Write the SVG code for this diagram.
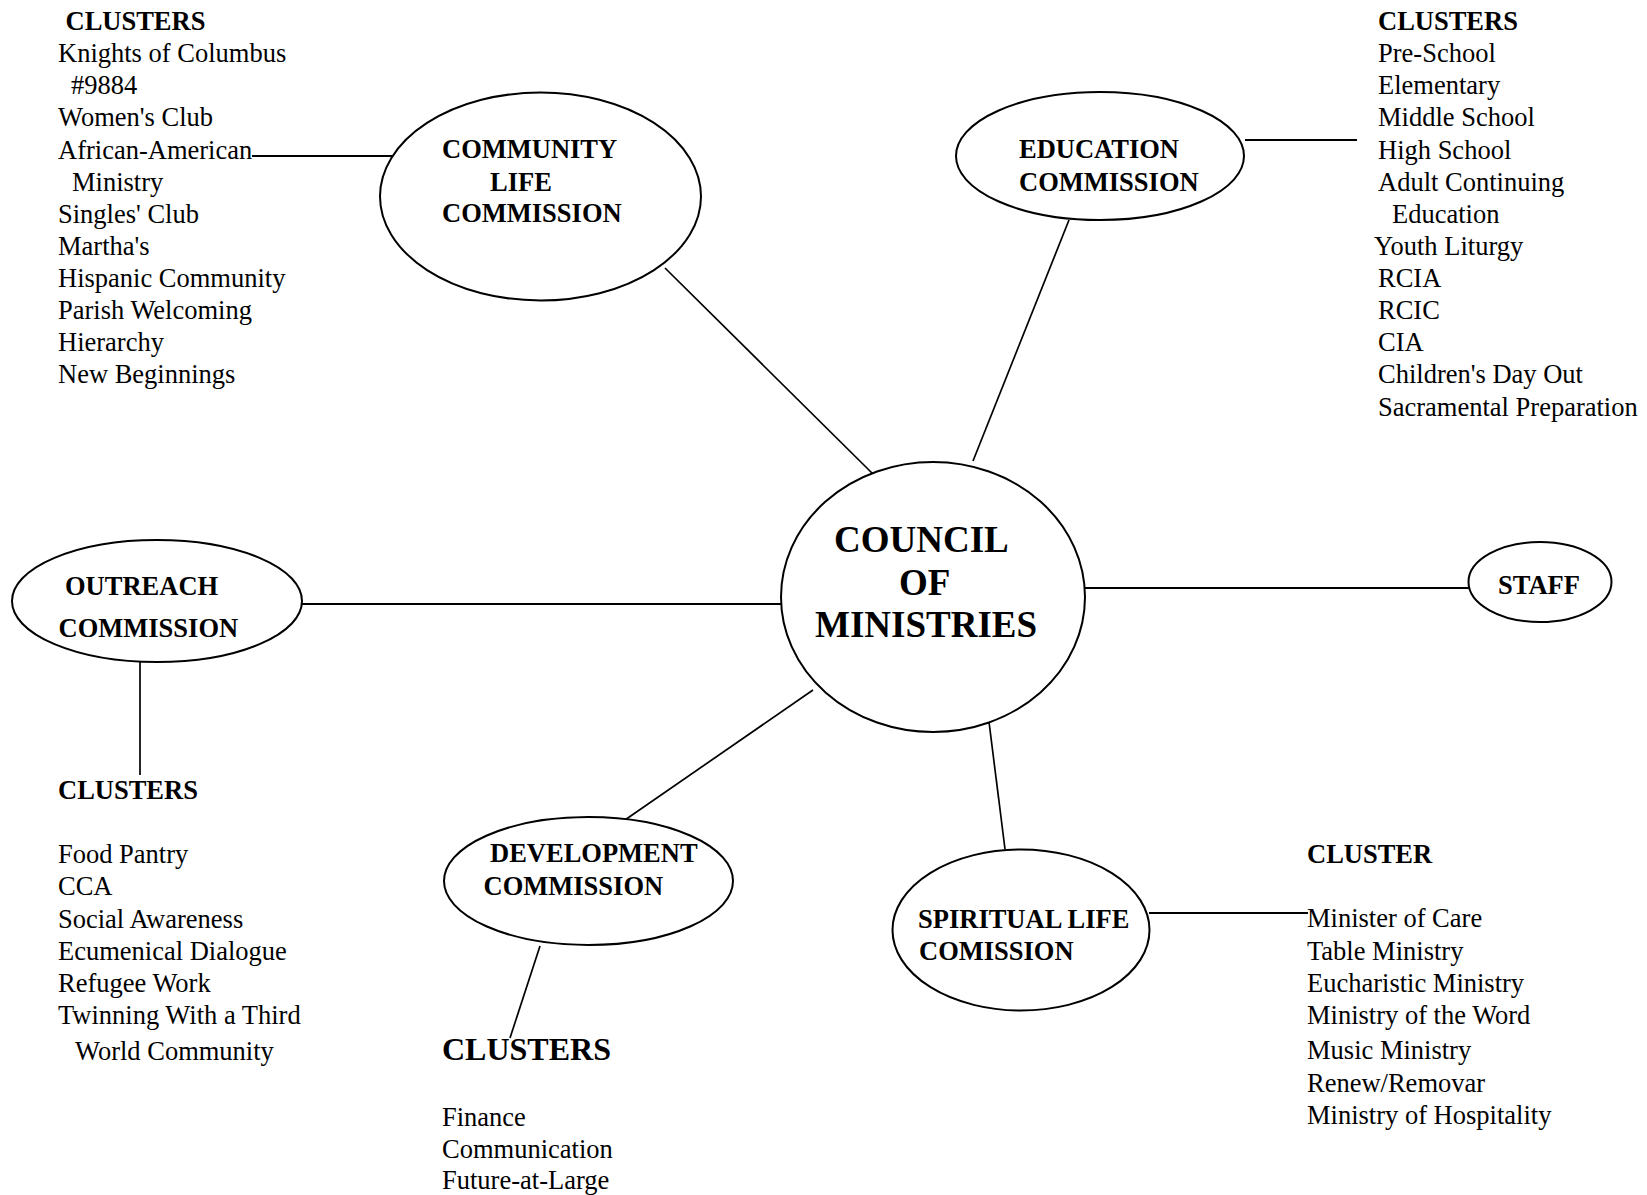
<svg xmlns="http://www.w3.org/2000/svg" width="1647" height="1195" viewBox="0 0 1647 1195">
<style>
.n{fill:#fff;stroke:#000;stroke-width:2}
.c line{stroke:#000;stroke-width:1.7}
text{font-family:"Liberation Serif","Times New Roman",serif;font-size:26.5px;fill:#000}
.b{font-weight:bold}
.big{font-weight:bold;font-size:37px}
.h32{font-weight:bold;font-size:32px}
</style>
<rect width="1647" height="1195" fill="#fff"/>
<g id="connectors" class="c">
<line x1="252" y1="156" x2="398" y2="156" style="stroke-width:2.2"/>
<line x1="665" y1="268" x2="876" y2="477"/>
<line x1="1069" y1="220" x2="973" y2="461"/>
<line x1="1245" y1="140" x2="1357" y2="140" style="stroke-width:2.2"/>
<line x1="302" y1="604" x2="781" y2="604" style="stroke-width:2.2"/>
<line x1="1085" y1="588" x2="1469" y2="588" style="stroke-width:2.2"/>
<line x1="140" y1="662" x2="140" y2="775"/>
<line x1="813" y1="690" x2="622" y2="822"/>
<line x1="540" y1="946" x2="510" y2="1038"/>
<line x1="989" y1="722" x2="1005" y2="849"/>
<line x1="1149" y1="913" x2="1308" y2="913" style="stroke-width:2.2"/>
</g>
<g id="community-clusters">
<text x="65.5" y="30" class="b">CLUSTERS</text>
<text x="58" y="62">Knights of Columbus</text>
<text x="71" y="94">#9884</text>
<text x="58" y="126">Women's Club</text>
<text x="58" y="158.5">African-American</text>
<text x="72" y="190.5">Ministry</text>
<text x="58" y="223">Singles' Club</text>
<text x="58" y="255">Martha's</text>
<text x="58" y="287">Hispanic Community</text>
<text x="58" y="319">Parish Welcoming</text>
<text x="58" y="351">Hierarchy</text>
<text x="58" y="383">New Beginnings</text>
</g>
<g id="community">
<ellipse class="n" cx="540.5" cy="196.5" rx="160.5" ry="104"/>
<text x="442" y="158" class="b">COMMUNITY</text>
<text x="490" y="190.5" class="b">LIFE</text>
<text x="442" y="222" class="b">COMMISSION</text>
</g>
<g id="education">
<ellipse class="n" cx="1100" cy="156" rx="144" ry="64"/>
<text x="1019" y="158" class="b">EDUCATION</text>
<text x="1019" y="191" class="b">COMMISSION</text>
</g>
<g id="education-clusters">
<text x="1378" y="30" class="b">CLUSTERS</text>
<text x="1378" y="62">Pre-School</text>
<text x="1378" y="94">Elementary</text>
<text x="1378" y="126">Middle School</text>
<text x="1378" y="158.5">High School</text>
<text x="1378" y="190.5">Adult Continuing</text>
<text x="1392" y="223">Education</text>
<text x="1374" y="255">Youth Liturgy</text>
<text x="1378" y="287">RCIA</text>
<text x="1378" y="319">RCIC</text>
<text x="1378" y="351">CIA</text>
<text x="1378" y="383">Children's Day Out</text>
<text x="1378" y="415.5">Sacramental Preparation</text>
</g>
<g id="council">
<ellipse class="n" cx="933" cy="597" rx="152" ry="135"/>
<text x="834" y="552" class="big">COUNCIL</text>
<text x="899" y="595" class="big">OF</text>
<text x="815" y="637" class="big">MINISTRIES</text>
</g>
<g id="staff">
<ellipse class="n" cx="1540" cy="582" rx="71.5" ry="40"/>
<text x="1498" y="594" class="b">STAFF</text>
</g>
<g id="outreach">
<ellipse class="n" cx="157" cy="601" rx="145" ry="61"/>
<text x="65" y="595" class="b">OUTREACH</text>
<text x="58.5" y="637" class="b">COMMISSION</text>
</g>
<g id="outreach-clusters">
<text x="58" y="799" class="b">CLUSTERS</text>
<text x="58" y="863">Food Pantry</text>
<text x="58" y="895">CCA</text>
<text x="58" y="928">Social Awareness</text>
<text x="58" y="960">Ecumenical Dialogue</text>
<text x="58" y="992">Refugee Work</text>
<text x="58" y="1024">Twinning With a Third</text>
<text x="75" y="1060">World Community</text>
</g>
<g id="development">
<ellipse class="n" cx="588.5" cy="881" rx="144.5" ry="64"/>
<text x="490" y="862" class="b">DEVELOPMENT</text>
<text x="483.5" y="895" class="b">COMMISSION</text>
</g>
<g id="development-clusters">
<text x="442" y="1060" class="h32">CLUSTERS</text>
<text x="442" y="1125.5">Finance</text>
<text x="442" y="1157.5">Communication</text>
<text x="442" y="1189">Future-at-Large</text>
</g>
<g id="spiritual">
<ellipse class="n" cx="1021" cy="930" rx="128.5" ry="80.5"/>
<text x="918" y="928" class="b">SPIRITUAL LIFE</text>
<text x="919" y="960" class="b">COMISSION</text>
</g>
<g id="spiritual-cluster">
<text x="1307" y="863" class="b">CLUSTER</text>
<text x="1307" y="927">Minister of Care</text>
<text x="1307" y="960">Table Ministry</text>
<text x="1307" y="992">Eucharistic Ministry</text>
<text x="1307" y="1024">Ministry of the Word</text>
<text x="1307" y="1059">Music Ministry</text>
<text x="1307" y="1092">Renew/Removar</text>
<text x="1307" y="1124">Ministry of Hospitality</text>
</g>
</svg>
